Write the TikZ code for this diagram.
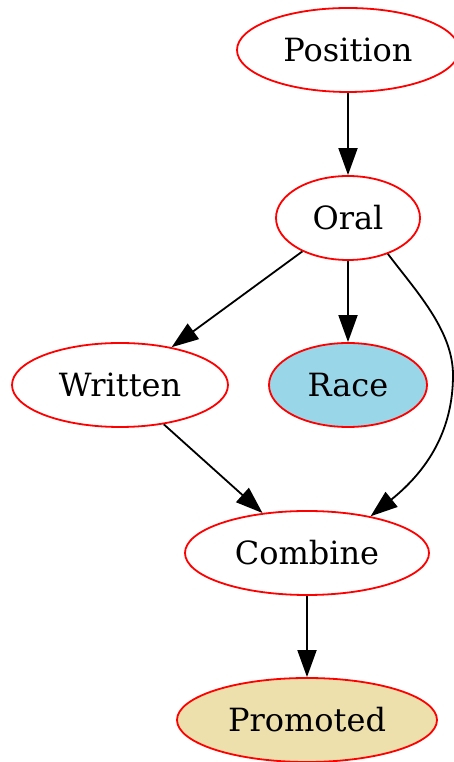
\documentclass[tikz,border=0pt]{standalone}
\usepackage{fontspec}
\setmainfont{DejaVu Serif}
\usetikzlibrary{shapes.geometric,arrows.meta}
\definecolor{raceblue}{RGB}{152,214,232}
\definecolor{promofill}{RGB}{238,224,172}
\tikzset{
  gnode/.style={ellipse, draw=red, line width=1.8pt, inner sep=0pt,
    font=\fontsize{32}{38}\selectfont, minimum height=84pt},
  gedge/.style={line width=1.8pt, -{Triangle[length=27pt,width=19pt]}}
}
\begin{document}
\begin{tikzpicture}[x=1pt,y=1pt]
\useasboundingbox (0,0) rectangle (454,762);
\node[gnode, minimum width=222pt] (position) at (348,712) {Position};
\node[gnode, minimum width=144pt] (oral) at (348,544) {Oral};
\node[gnode, minimum width=216pt] (written) at (120,377) {Written};
\node[gnode, minimum width=158pt, fill=raceblue] (race) at (348,377) {Race};
\node[gnode, minimum width=244pt] (combine) at (307,209) {Combine};
\node[gnode, minimum width=260pt, fill=promofill] (promoted) at (307,42) {Promoted};
\draw[gedge] (position) -- (oral);
\draw[gedge] (oral) -- (written);
\draw[gedge] (oral) -- (race);
\draw[gedge] (oral.-42) .. controls (415,472) and (453,432) .. (453,387)
  .. controls (453,332) and (428,292) .. (combine.30);
\draw[gedge] (written) -- (combine);
\draw[gedge] (combine) -- (promoted);
\end{tikzpicture}
\end{document}
